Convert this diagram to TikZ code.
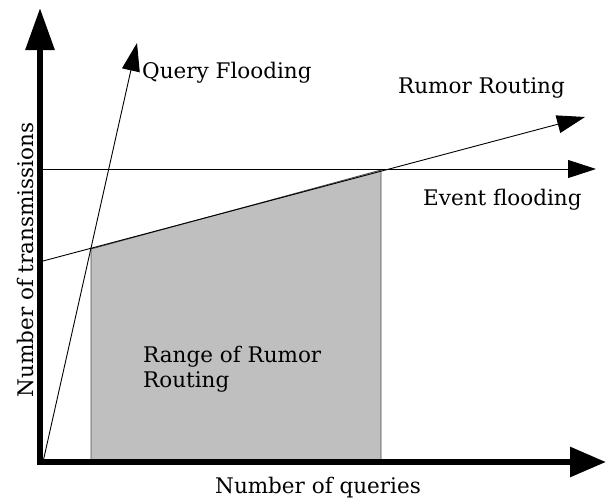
\documentclass[tikz,border=0pt]{standalone}
\usepackage{fontspec}
\setmainfont{DejaVu Serif}
\usetikzlibrary{arrows.meta}
\tikzset{
    axis/.style={line width=6pt, -{Triangle[length=42pt,width=28pt]}},
    curve/.style={line width=0.9pt, -{Triangle[length=28pt,width=18pt]}},
    label/.style={font=\fontsize{21.5}{24.5}\selectfont, inner sep=0pt, anchor=base west, align=left},
}
\begin{document}
\begin{tikzpicture}[x=1pt,y=-1pt]
            \useasboundingbox (0,0) rectangle (606,498);
            %Points
            \coordinate (o)     at (40,462);
            \coordinate (ytip)  at (40,8);
            \coordinate (x0)    at (37,462);
            \coordinate (xtip)  at (606,462);
            \coordinate (q0)    at (43,462);
            \coordinate (qtip)  at (137,43);
            \coordinate (e0)    at (43,169);
            \coordinate (etip)  at (596,169);
            \coordinate (r0)    at (43,261);
            \coordinate (rtip)  at (585,117);
            \coordinate (a)     at (91,462);
            \coordinate (b)     at (91,249);
            \coordinate (c)     at (381,170);
            \coordinate (d)     at (381,462);

            %Range
            \fill[fill=black!25, draw=black!70, line width=0.8pt] (a) -- (b) -- (c) -- (d) -- cycle;

            %Nodes
            \node[label] (qf)  at (142,78)  {Query Flooding};
            \node[label] (rr)  at (398,93)  {Rumor Routing};
            \node[label] (ef)  at (423,205) {Event flooding};
            \node[label] (rng) at (143,387) {Range of Rumor\\Routing};
            \node[label, anchor=base] (nq)  at (318,493) {Number of queries};
            \node[label, anchor=base, rotate=90] (nt) at (33,260) {Number of transmissions};

            %Lines
            \draw[curve] (q0) -- (qtip);
            \draw[curve] (e0) -- (etip);
            \draw[curve] (r0) -- (rtip);
            \draw[axis] (o) -- (ytip);
            \draw[line width=6pt, -{Triangle[length=36pt,width=29pt]}] (x0) -- (xtip);
        \end{tikzpicture}
\end{document}
